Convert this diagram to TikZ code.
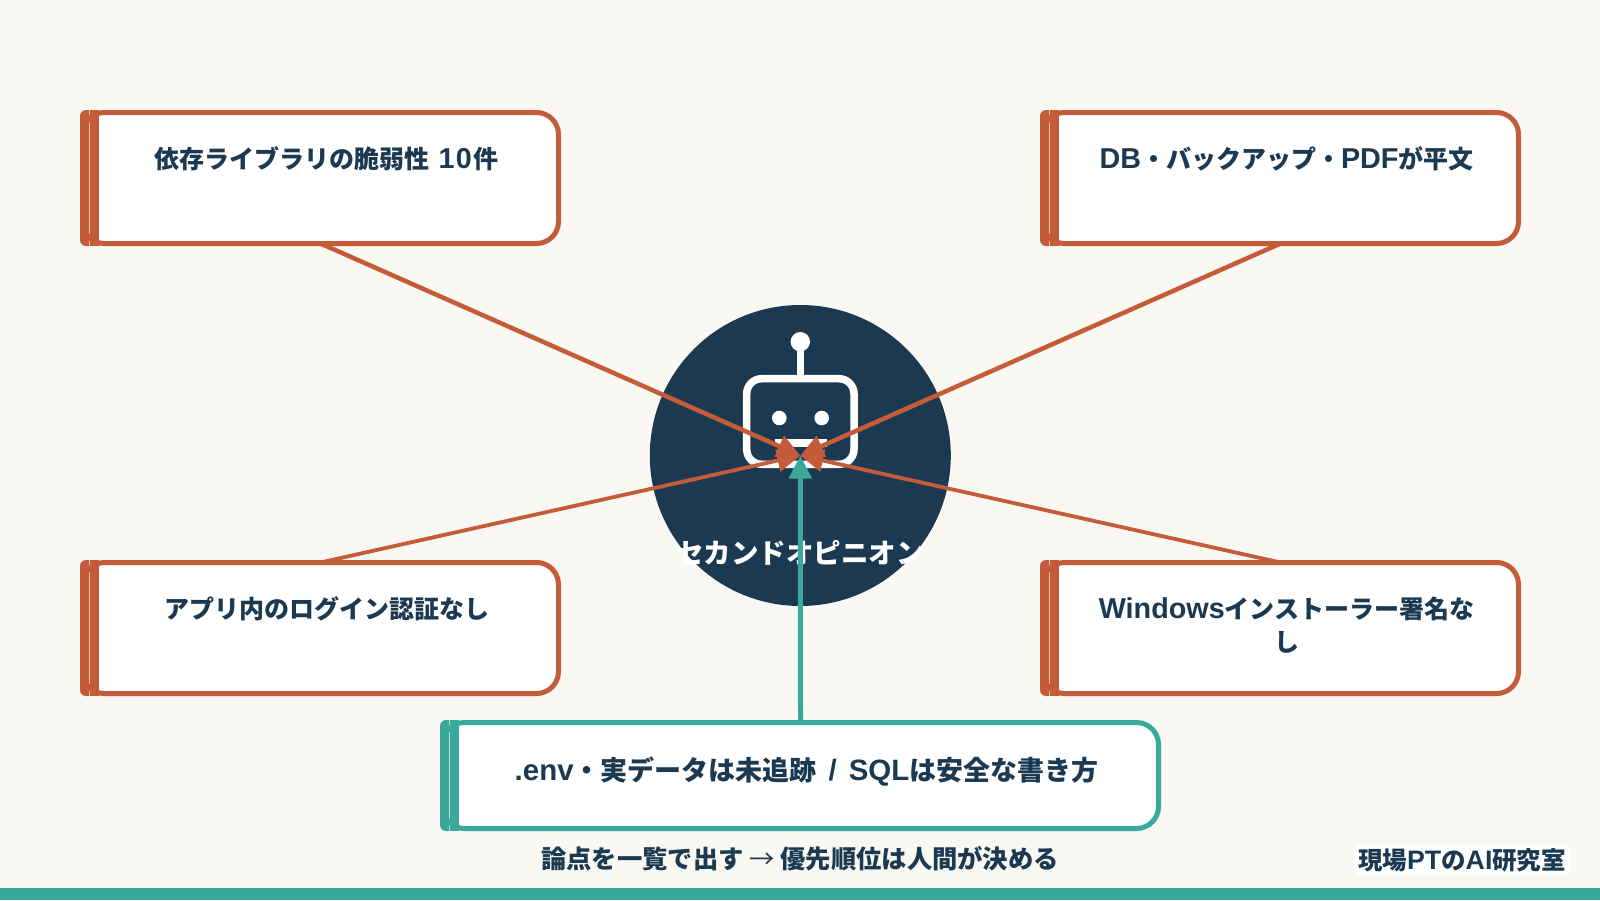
\documentclass[tikz,border=0pt]{standalone}
\usepackage{fontspec}
\usetikzlibrary{arrows.meta}
\setmainfont{Noto Sans CJK JP}
\newfontfamily\latf[Scale=1.15]{Liberation Sans}
\newfontfamily\latfs[Scale=1.09]{Liberation Sans}
\definecolor{bgc}{HTML}{FAF8F3}
\definecolor{navyc}{HTML}{1B3A52}
\definecolor{rustc}{HTML}{C45C3A}
\definecolor{tealc}{HTML}{3AA89A}
\tikzset{
  x=1pt,y=-1pt,
  boxnode/.style={draw=#1,line width=5pt,fill=white,rounded corners=22pt,inner sep=0pt,outer sep=0pt,text=navyc,font=\fontsize{25}{33}\selectfont\bfseries},
  rustline/.style={draw=rustc,line width=4.5pt,-{Triangle[length=23pt,width=22pt]}},
  rustthin/.style={rustline,line width=3.8pt},
  tealline/.style={draw=tealc,line width=5pt,-{Triangle[length=23pt,width=22pt]}},
  iconline/.style={draw=white,line width=7.5pt},
  capnode/.style={text=navyc,inner sep=0pt,font=\fontsize{25.3}{33}\selectfont\bfseries},
}
% name, colour, left, top, right, bottom, text gap, text
\newcommand{\subbox}[8]{%
  \pgfmathsetlengthmacro{\bw}{#5-#3-5}%
  \pgfmathsetlengthmacro{\bh}{#6-#4-5}%
  \pgfmathsetlengthmacro{\pw}{#5-#3-40}%
  \node[boxnode=#2,minimum width=\bw,minimum height=\bh] (#1) at ({(#3+#5)/2},{(#4+#6)/2})
    {\kern12pt\parbox[c][\bh][t]{\pw}{\vspace*{#7pt}\centering #8}};
  \fill[#2] ({#3+9.3},#4) [rounded corners=6pt] -- (#3,#4) -- (#3,#6) [sharp corners] -- ({#3+9.3},#6) -- cycle;
  \fill[#2] ({#3+10.3},#4) rectangle ({#3+19},#6);
}
\begin{document}
\begin{tikzpicture}
\useasboundingbox (0,0) rectangle (1600,900);
\fill[bgc] (0,0) rectangle (1600,900);
\fill[tealc] (0,888) rectangle (1600,900);
\node[circle,fill=navyc,minimum size=301pt,inner sep=0pt,outer sep=0pt] (hub) at (800.3,455.5) {};
% robot icon
\draw[iconline,rounded corners=15pt] (746.7,378.7) rectangle (854,464.3);
\draw[iconline] (800.3,345) -- (800.3,378);
\fill[white] (800.3,341.7) circle (9.7);
\fill[white] (779.3,418) circle (7.3);
\fill[white] (821.7,418) circle (7.3);
\fill[white] (775,439) rectangle (827,447);
\node[text=white,inner sep=0pt,font=\fontsize{27.5}{36}\selectfont\bfseries] (hublabel) at (800,553) {セカンドオピニオン};
\subbox{b1}{rustc}{80}{110}{561}{246}{34}{依存ライブラリの脆弱性\kern9pt{\latf 1\kern1.5pt 0}\kern1.5pt 件}
\subbox{b2}{rustc}{1040}{110}{1521}{246}{34}{{\latf DB}・バックアップ・{\latf PDF}が平文}
\subbox{b3}{rustc}{80}{560}{561}{696}{34}{アプリ内のログイン認証なし}
\subbox{b4}{rustc}{1040}{560}{1521}{696}{34}{{\latf Windows}インストーラー署名な\\し}
\subbox{b5}{tealc}{440}{720}{1161}{831}{34}{\fontsize{27}{33}\selectfont{\latfs .env}・実データは未追跡\kern12pt{\latfs /}\kern12pt{\latfs SQL}は安全な書き方}
\draw[rustline] (b1.south) -- (hub.center);
\draw[rustline] (b2.south) -- (hub.center);
\draw[rustthin] (b3.north) -- (hub.center);
\draw[rustthin] (b4.north) -- (hub.center);
\draw[tealline] (b5.north) -- (hub.center);
\node[capnode] (caption) at (800,859) {論点を一覧で出す {\mdseries →} 優先順位は人間が決める};
\node[capnode,fill=white,inner sep=4pt,rounded corners=6pt,font=\fontsize{24.5}{30}\selectfont\bfseries] (brand) at (1462,860) {現場{\latfs PT}の{\latfs AI}研究室};
\end{tikzpicture}
\end{document}
